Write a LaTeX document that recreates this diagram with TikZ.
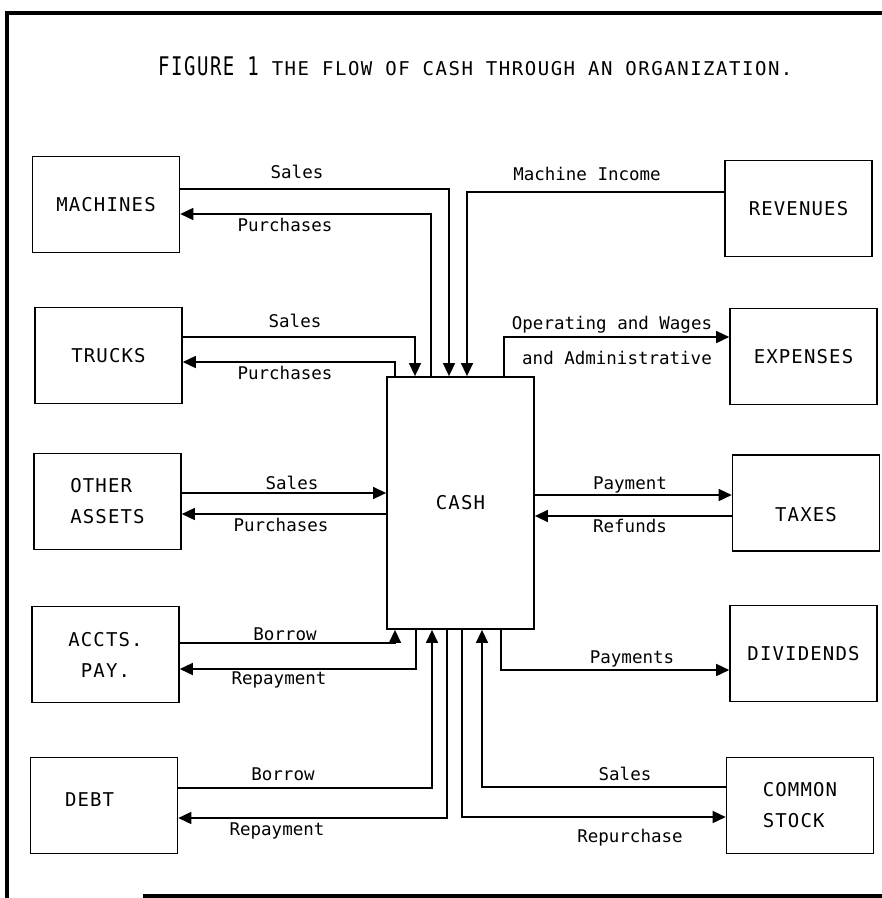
\documentclass[tikz,border=0pt]{standalone}
\usepackage{graphicx}
\usepackage{fontspec}
\setmonofont{DejaVu Sans Mono}
\newfontfamily\boxfont[LetterSpace=6]{DejaVu Sans Mono}
\newfontfamily\titlefont[LetterSpace=8]{DejaVu Sans Mono}
\usetikzlibrary{arrows.meta}
\tikzset{
  box/.style={draw, line width=1.6pt, minimum width=147pt, minimum height=96pt,
    inner sep=0pt, font=\boxfont\fontsize{19}{31}\selectfont},
  cashbox/.style={box, minimum height=252pt, line width=1.8pt},
  flow/.style={line width=1.5pt, -{Triangle[length=13pt,width=12pt]}},
  lbl/.style={anchor=base, inner sep=0pt, font=\ttfamily\fontsize{17.5}{20}\selectfont},
  frame/.style={line width=4.5pt},
}

\begin{document}
\begin{tikzpicture}[x=1pt,y=-1pt]
\useasboundingbox (0,0) rectangle (882,898);
% frame of the page
\draw[frame] (5,13) -- (882,13);
\draw[frame] (7,11) -- (7,898);
\draw[frame] (143,896) -- (882,896);
\node[anchor=base west, inner sep=0pt, font=\titlefont\fontsize{19}{20}\selectfont] (title) at (158,75)
  {\scalebox{1}[1.35]{FIGURE 1} THE FLOW OF CASH THROUGH AN ORGANIZATION.};
% boxes
\node[box] (mach) at (106,204.5) {MACHINES};
\node[box] (truck) at (108.5,355.5) {TRUCKS};
\node[box, align=left] (other) at (107.5,501.5) {OTHER\\ASSETS};
\node[box, align=center] (accts) at (105.5,654.5) {ACCTS.\\PAY.};
\node[box, text width=78pt, align=left, text depth=12pt] (debt) at (104,805.5) {DEBT};
\node[box] (rev) at (798.5,208.5) {REVENUES};
\node[box] (exp) at (803.5,356.5) {EXPENSES};
\node[box, text height=36pt, text depth=0pt] (tax) at (806,503) {TAXES};
\node[box] (div) at (803.5,653.5) {DIVIDENDS};
\node[box, align=left] (stock) at (800,805.5) {COMMON\\STOCK};
\node[cashbox] (cash) at (460.5,503) {CASH};
% into and out of the top of cash
\draw[flow] (mach.east |- 0,189) -| (449,0 |- cash.north);
\draw[flow] (431,0 |- cash.north) |- (mach.east |- 0,214);
\draw[flow] (rev.west |- 0,192) -| (467,0 |- cash.north);
\draw[flow] (truck.east |- 0,337) -| (415,0 |- cash.north);
\draw[flow] (395,0 |- cash.north) |- (truck.east |- 0,362);
\draw[flow] (504,0 |- cash.north) |- (exp.west |- 0,337);
% sides of cash
\draw[flow] (other.east |- 0,493) -- (cash.west |- 0,493);
\draw[flow] (cash.west |- 0,514) -- (other.east |- 0,514);
\draw[flow] (cash.east |- 0,495) -- (tax.west |- 0,495);
\draw[flow] (tax.west |- 0,516) -- (cash.east |- 0,516);
% bottom of cash
\draw[flow] (accts.east |- 0,643) -| (395,0 |- cash.south);
\draw[flow] (416,0 |- cash.south) |- (accts.east |- 0,669);
\draw[flow] (debt.east |- 0,788) -| (432,0 |- cash.south);
\draw[flow] (447,0 |- cash.south) |- (debt.east |- 0,818);
\draw[flow] (462,0 |- cash.south) |- (stock.west |- 0,817);
\draw[flow] (stock.west |- 0,787) -| (482,0 |- cash.south);
\draw[flow] (501,0 |- cash.south) |- (div.west |- 0,670);
% labels
\foreach \n/\x/\y/\t in {
  lms/297/178/Sales, lmp/285/231.5/Purchases, lmi/587/180/Machine Income,
  lts/295/327/Sales, ltp/285/379/Purchases,
  leo/612/329/Operating and Wages, lea/617/364/and Administrative,
  los/292/489/Sales, lop/281/531/Purchases,
  lxp/630/489/Payment, lxr/630/532/Refunds,
  lab/285/640/Borrow, lar/279/684/Repayment,
  ldb/283/780/Borrow, ldr/277/835/Repayment,
  lss/625/780/Sales, lsr/630/842/Repurchase,
  ldp/632/663/Payments}
  \node[lbl] (\n) at (\x,\y) {\t};
\end{tikzpicture}
\end{document}
